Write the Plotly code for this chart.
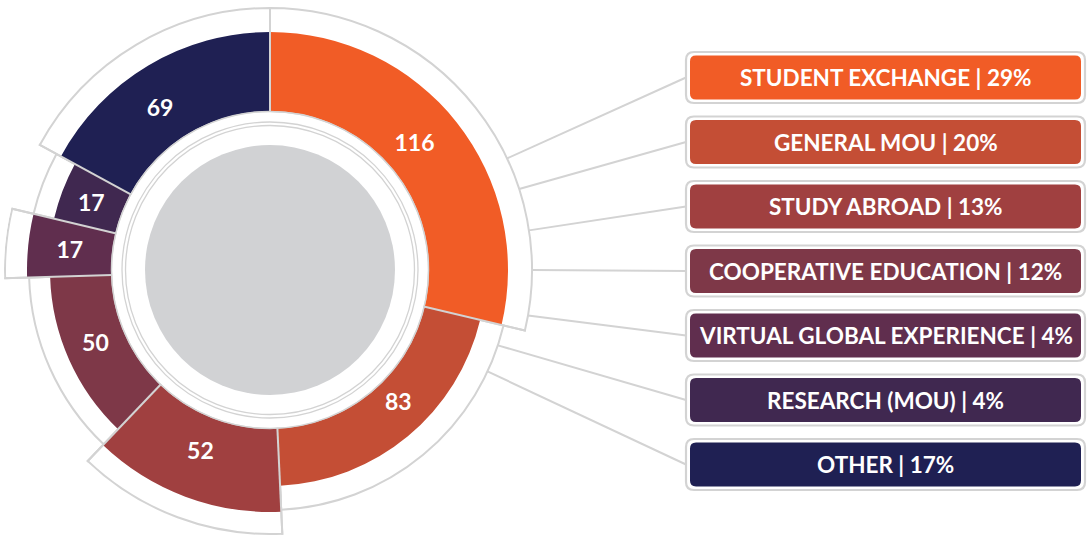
import math
import plotly.graph_objects as go

# ---------------- data ----------------
categories = ["STUDENT EXCHANGE", "GENERAL MOU", "STUDY ABROAD", "COOPERATIVE EDUCATION",
              "VIRTUAL GLOBAL EXPERIENCE", "RESEARCH (MOU)", "OTHER"]
values = [116, 83, 52, 50, 17, 17, 69]
percent_labels = ["29%", "20%", "13%", "12%", "4%", "4%", "17%"]

# ---------------- style ----------------
colors = ["#F15C26", "#C44E35", "#A04040", "#7E3848", "#602E4E", "#402850", "#1F2053"]
seg_outer = [238, 216, 242, 220, 243, 222, 238]       # outer radius of each coloured segment (px)
outline_outer = [262, 240, 264, 241, 265, 243, 262]   # outer radius of the white outlined sector (px)
label_r = [191, 186, 196, 190, 201, 190, 194]          # radius of value labels (px)
label_dtheta = [-2.5, -4.0, 0.3, 0.8, -0.8, -1.1, -3.8]  # angular nudge of value labels (deg)
INNER = 159
LINE_GRAY = "#D3D3D3"
FONT = "Lato"

W, H = 1087, 537
CX, CY = 270, 270      # donut centre in px (from top-left)
RMAX = 266             # radial range -> 1 unit = 1 px

total = sum(values)
widths = [v / total * 360 for v in values]
starts = []
acc = 0
for w in widths:
    starts.append(acc)
    acc += w
mids = [s + w / 2 for s, w in zip(starts, widths)]

fig = go.Figure()

# outlined white sectors behind
fig.add_trace(go.Barpolar(
    theta=mids, width=widths, base=[INNER] * len(values),
    r=[o - INNER for o in outline_outer],
    marker=dict(color="white", line=dict(color=LINE_GRAY, width=2)),
    hoverinfo="skip"))

# coloured segments
fig.add_trace(go.Barpolar(
    theta=mids, width=widths, base=[INNER] * len(values),
    r=[s - INNER for s in seg_outer],
    marker=dict(color=colors, line=dict(width=0)),
    text=categories, hoverinfo="text"))

# dividers between segments
div_r, div_t = [], []
n = len(values)
for i in range(n):
    j = (i - 1) % n
    rmax = max(outline_outer[i], outline_outer[j])
    div_r += [INNER - 1, rmax + 1, None]
    div_t += [starts[i], starts[i], None]
fig.add_trace(go.Scatterpolar(r=div_r, theta=div_t, mode="lines",
                              line=dict(color=LINE_GRAY, width=2), hoverinfo="skip"))

# value labels
fig.add_trace(go.Scatterpolar(
    r=label_r, theta=[m + d for m, d in zip(mids, label_dtheta)], mode="text",
    text=[str(v) for v in values],
    textfont=dict(color="white", size=23, family=FONT, weight=700),
    hoverinfo="skip"))

shapes = []
annotations = []


def px_x(x):
    return x / W


def px_y(y):
    return 1 - y / H


def circle(r, fill=None, line_color=None, lw=0):
    d = dict(type="circle", xref="paper", yref="paper",
             x0=px_x(CX - r), x1=px_x(CX + r), y0=px_y(CY + r), y1=px_y(CY - r),
             line=dict(width=lw, color=line_color or "rgba(0,0,0,0)"))
    if fill:
        d["fillcolor"] = fill
    return d


shapes.append(circle(125, fill="#D1D2D4"))
shapes.append(circle(148, line_color=LINE_GRAY, lw=1.3))
shapes.append(circle(144.5, line_color=LINE_GRAY, lw=1.3))
shapes.append(circle(158.5, line_color=LINE_GRAY, lw=1.5))


def rounded_rect(x0, y0, x1, y1, rad):
    # pixel coords (top-left origin) -> paper path with quadratic corners
    def P(x, y):
        return f"{px_x(x):.6f},{px_y(y):.6f}"
    return (f"M {P(x0 + rad, y0)} L {P(x1 - rad, y0)} Q {P(x1, y0)} {P(x1, y0 + rad)} "
            f"L {P(x1, y1 - rad)} Q {P(x1, y1)} {P(x1 - rad, y1)} "
            f"L {P(x0 + rad, y1)} Q {P(x0, y1)} {P(x0, y1 - rad)} "
            f"L {P(x0, y0 + rad)} Q {P(x0, y0)} {P(x0 + rad, y0)} Z")


BOX_L, BOX_R = 686, 1085
BOX_H = 51
box_cy = [77.5, 142, 206.5, 271, 335.5, 400, 464.5]
conn_angles = [64.8, 72, 81.3, 90, 100, 108.3, 115]   # clockwise from top


def outline_radius_at(angle):
    for s, w, o in zip(starts, widths, outline_outer):
        if s <= angle < s + w:
            return o
    return outline_outer[-1]


for i, cat in enumerate(categories):
    cy = box_cy[i]
    # connector
    a = math.radians(conn_angles[i])
    r = outline_radius_at(conn_angles[i])
    ex, ey = CX + r * math.sin(a), CY - r * math.cos(a)
    shapes.append(dict(type="line", xref="paper", yref="paper",
                       x0=px_x(ex), y0=px_y(ey), x1=px_x(BOX_L), y1=px_y(cy),
                       line=dict(color=LINE_GRAY, width=2)))
    # outer box
    shapes.append(dict(type="path", xref="paper", yref="paper",
                       path=rounded_rect(BOX_L, cy - BOX_H / 2, BOX_R, cy + BOX_H / 2, 8),
                       fillcolor="white", line=dict(color=LINE_GRAY, width=2.2)))
    # inner coloured box
    shapes.append(dict(type="path", xref="paper", yref="paper",
                       path=rounded_rect(BOX_L + 4, cy - BOX_H / 2 + 3.5, BOX_R - 4, cy + BOX_H / 2 - 3.5, 6),
                       fillcolor=colors[i], line=dict(width=0)))
    annotations.append(dict(xref="paper", yref="paper", x=px_x((BOX_L + BOX_R) / 2), y=px_y(cy),
                            text=f"{cat} | {percent_labels[i]}", showarrow=False,
                            xanchor="center", yanchor="middle",
                            font=dict(color="white", size=22.5, family=FONT, weight=700)))

fig.update_layout(
    width=W, height=H,
    margin=dict(l=0, r=0, t=0, b=0),
    paper_bgcolor="white",
    showlegend=False,
    shapes=shapes,
    annotations=annotations,
    polar=dict(
        domain=dict(x=[(CX - RMAX) / W, (CX + RMAX) / W],
                    y=[(H - CY - RMAX) / H, (H - CY + RMAX) / H]),
        bgcolor="rgba(0,0,0,0)",
        barmode="overlay",
        hole=0,
        radialaxis=dict(visible=False, range=[0, RMAX]),
        angularaxis=dict(visible=False, direction="clockwise", rotation=90),
    ),
)

fig.write_html("out.html", config={"displayModeBar": False},
               post_script="document.body.style.margin='0';")
